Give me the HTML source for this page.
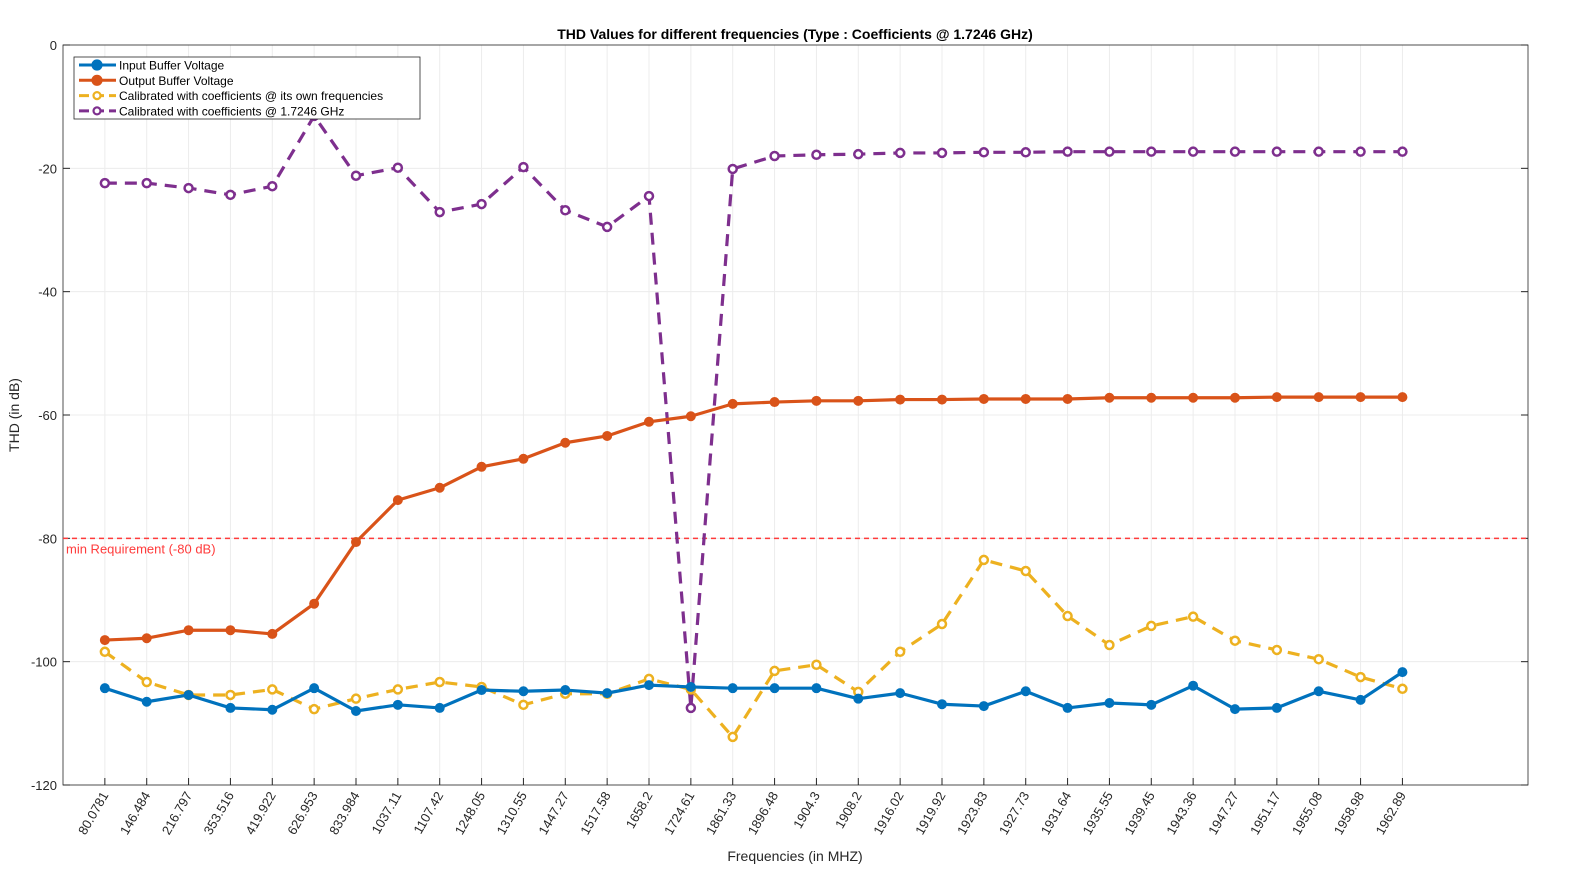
<!DOCTYPE html>
<html><head><meta charset="utf-8"><style>
body{margin:0;background:#fff;}
svg{display:block;font-family:"Liberation Sans","DejaVu Sans",sans-serif;}
</style></head><body>
<svg id="chart" width="1589" height="885" viewBox="0 0 1589 885" xmlns="http://www.w3.org/2000/svg"></svg>
<script>
const categories=["80.0781","146.484","216.797","353.516","419.922","626.953","833.984","1037.11","1107.42","1248.05","1310.55","1447.27","1517.58","1658.2","1724.61","1861.33","1896.48","1904.3","1908.2","1916.02","1919.92","1923.83","1927.73","1931.64","1935.55","1939.45","1943.36","1947.27","1951.17","1955.08","1958.98","1962.89"];
const inputBuffer=[-104.3,-106.5,-105.4,-107.5,-107.8,-104.3,-108.0,-107.0,-107.5,-104.6,-104.8,-104.6,-105.1,-103.8,-104.1,-104.3,-104.3,-104.3,-106.0,-105.1,-106.9,-107.2,-104.8,-107.5,-106.7,-107.0,-103.9,-107.7,-107.5,-104.8,-106.2,-101.7];
const outputBuffer=[-96.5,-96.2,-94.9,-94.9,-95.5,-90.6,-80.6,-73.8,-71.8,-68.4,-67.1,-64.5,-63.4,-61.1,-60.2,-58.2,-57.9,-57.7,-57.7,-57.5,-57.5,-57.4,-57.4,-57.4,-57.2,-57.2,-57.2,-57.2,-57.1,-57.1,-57.1,-57.1];
const calibOwn=[-98.4,-103.3,-105.4,-105.4,-104.5,-107.7,-106.0,-104.5,-103.3,-104.1,-107.0,-105.2,-105.2,-102.8,-104.5,-112.2,-101.5,-100.5,-104.9,-98.4,-93.9,-83.5,-85.3,-92.6,-97.3,-94.2,-92.7,-96.6,-98.1,-99.6,-102.5,-104.4];
const calibFixed=[-22.4,-22.4,-23.2,-24.3,-22.9,-11.5,-21.2,-19.9,-27.1,-25.8,-19.8,-26.8,-29.5,-24.5,-107.5,-20.1,-18.0,-17.8,-17.7,-17.5,-17.5,-17.4,-17.4,-17.3,-17.3,-17.3,-17.3,-17.3,-17.3,-17.3,-17.3,-17.3];
const yTicks=[0,-20,-40,-60,-80,-100,-120];
const requirement=-80;

const svg=document.getElementById('chart');
const NS='http://www.w3.org/2000/svg';
const L=63,R=1528,T=45,B=785;
const xS=i=>L+(i+1)*(R-L)/35;
const yS=v=>T+(0-v)/120*(B-T);
function el(tag,attrs,parent){const e=document.createElementNS(NS,tag);for(const k in attrs)e.setAttribute(k,attrs[k]);(parent||svg).appendChild(e);return e;}

const grid=el('g',{});


categories.forEach((c,i)=>{el('line',{x1:xS(i),x2:xS(i),y1:T,y2:B,stroke:'#ececec','stroke-width':1},grid);});
yTicks.forEach(v=>{el('line',{x1:L,x2:R,y1:yS(v),y2:yS(v),stroke:'#ececec','stroke-width':1},grid);});

const frame=el('rect',{x:L,y:T,width:R-L,height:B-T,fill:'none',stroke:'#262626','stroke-width':0.8});



const yax=el('g',{});


yTicks.forEach(v=>{
 el('line',{x1:L,x2:L+7,y1:yS(v),y2:yS(v),stroke:'#262626'},yax);
 el('line',{x1:R,x2:R-7,y1:yS(v),y2:yS(v),stroke:'#262626'},yax);
 const t=el('text',{x:L-6,y:yS(v)+5,'text-anchor':'end','font-size':13,fill:'#262626'},yax);
 t.textContent=v;
 
 
});
const xax=el('g',{});


categories.forEach((c,i)=>{
 el('line',{x1:xS(i),x2:xS(i),y1:B,y2:B-7,stroke:'#262626'},xax);
 const t=el('text',{x:xS(i)+4,y:B+10,'text-anchor':'end','font-size':13,fill:'#262626',transform:`rotate(-60 ${xS(i)+4} ${B+10})`},xax);
 t.textContent=c;
 
 
});

const req=el('line',{x1:L,x2:R,y1:yS(requirement),y2:yS(requirement),stroke:'#ff3b3b','stroke-width':1.5,'stroke-dasharray':'5,4'});


const rt=el('text',{x:L+3,y:yS(requirement)+15,'font-size':13,fill:'#ff3b3b'});
rt.textContent='min Requirement (-80 dB)';



function series(data,color,dashed,filled,name){
 const g=el('g',{});
 
 
 el('polyline',{points:data.map((v,i)=>xS(i)+','+yS(v)).join(' '),fill:'none',stroke:color,'stroke-width':3.2,'stroke-dasharray':dashed?'12,8':'none','stroke-linejoin':'round'},g);
 data.forEach((v,i)=>{
  const c=el('circle',{cx:xS(i),cy:yS(v),r:filled?4.5:4,fill:filled?color:'#fff',stroke:color,'stroke-width':filled?1:2.5},g);
  
  
 });
}
series(calibFixed,'#7e2f8e',true,false,'calibrated-1p7246ghz-series');
series(outputBuffer,'#d95319',false,true,'output-buffer-series');
series(calibOwn,'#edb120',true,false,'calibrated-own-series');
series(inputBuffer,'#0072bd',false,true,'input-buffer-series');

const title=el('text',{x:795,y:39,'text-anchor':'middle','font-size':14,'font-weight':'bold',fill:'#000'});
title.textContent='THD Values for different frequencies (Type : Coefficients @ 1.7246 GHz)';


const xt=el('text',{x:795,y:861,'text-anchor':'middle','font-size':14,fill:'#262626'});
xt.textContent='Frequencies (in MHZ)';


const yt=el('text',{x:19,y:415,'text-anchor':'middle','font-size':14,fill:'#262626',transform:'rotate(-90 19 415)'});
yt.textContent='THD (in dB)';



const lg=el('g',{});


el('rect',{x:74,y:57,width:346,height:62,fill:'#fff',stroke:'#262626','stroke-width':0.8},lg);
const items=[['Input Buffer Voltage','#0072bd',false,true],['Output Buffer Voltage','#d95319',false,true],['Calibrated with coefficients @ its own frequencies','#edb120',true,false],['Calibrated with coefficients @ 1.7246 GHz','#7e2f8e',true,false]];
items.forEach((it,k)=>{
 const y=65+k*15.3;
 const e=el('g',{},lg);
 
 
 el('line',{x1:79,x2:116,y1:y,y2:y,stroke:it[1],'stroke-width':3,'stroke-dasharray':it[2]?'10,5':'none'},e);
 el('circle',{cx:97,cy:y,r:it[3]?4.5:3.5,fill:it[3]?it[1]:'#fff',stroke:it[1],'stroke-width':2.2},e);
 const t=el('text',{x:119,y:y+4.5,'font-size':12,fill:'#000'},e);
 t.textContent=it[0];
});
</script>
</body></html>
